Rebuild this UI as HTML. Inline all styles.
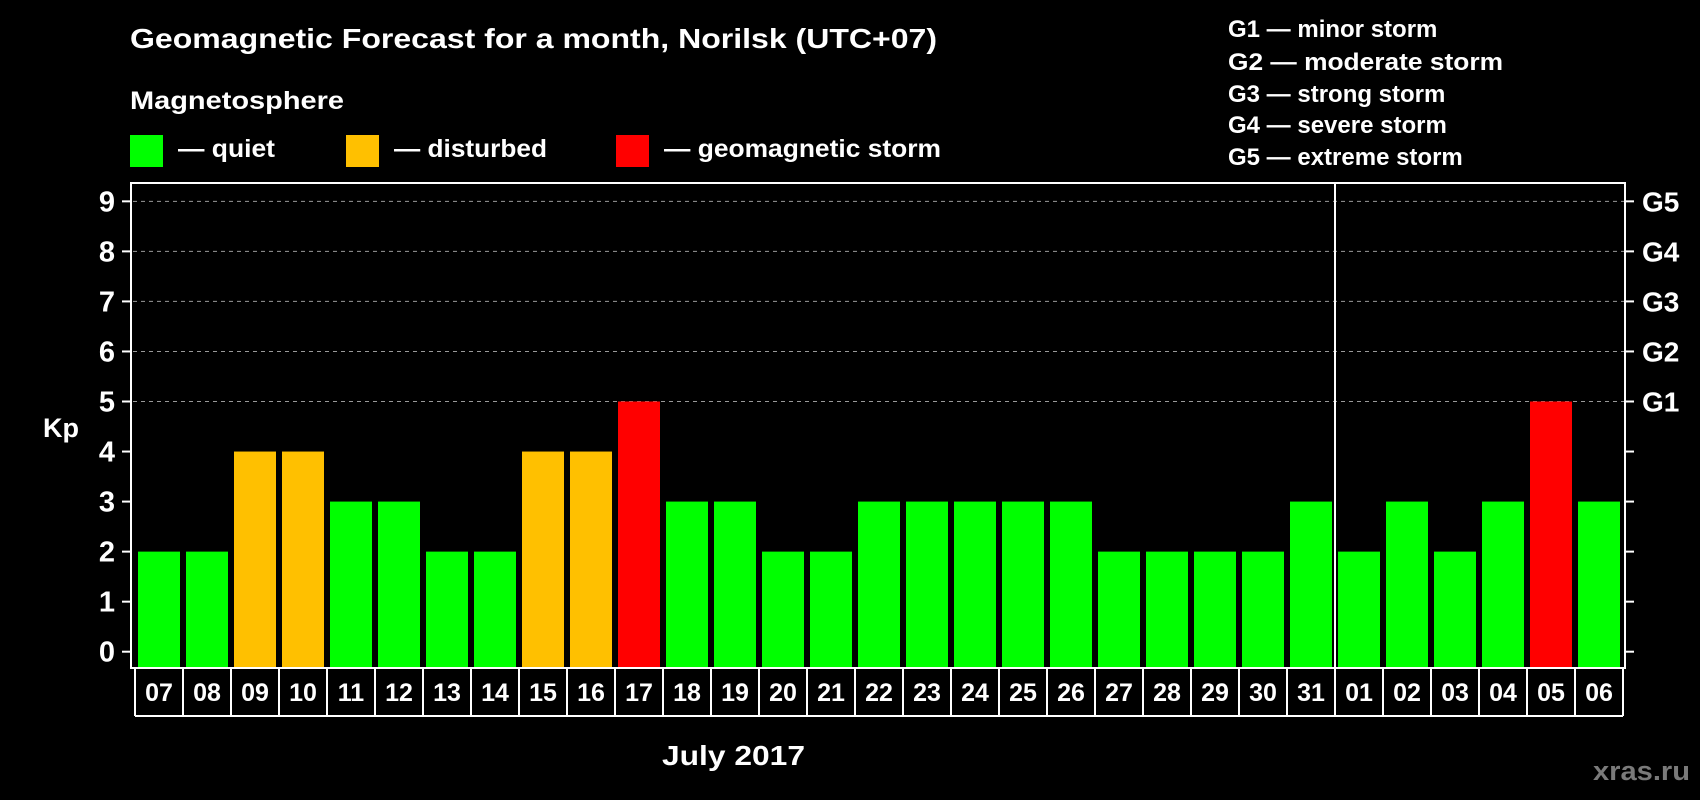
<!DOCTYPE html>
<html><head><meta charset="utf-8"><style>
html,body{margin:0;padding:0;background:#000;}
svg{display:block;font-family:"Liberation Sans",Arial,sans-serif;font-weight:bold;}
</style></head><body>
<svg id="chart" width="1700" height="800" viewBox="0 0 1700 800" xmlns="http://www.w3.org/2000/svg">
<rect width="1700" height="800" fill="#000"/>
<text x="130" y="48" fill="#fff" font-size="28" textLength="807" lengthAdjust="spacingAndGlyphs">Geomagnetic Forecast for a month, Norilsk (UTC+07)</text>
<text x="130" y="109" fill="#fff" font-size="25" textLength="214" lengthAdjust="spacingAndGlyphs">Magnetosphere</text>
<rect x="130" y="135" width="33" height="32" fill="#00ff00"/>
<text x="178" y="157" fill="#fff" font-size="25" textLength="97" lengthAdjust="spacingAndGlyphs">— quiet</text>
<rect x="346" y="135" width="33" height="32" fill="#ffc000"/>
<text x="394" y="157" fill="#fff" font-size="25" textLength="153" lengthAdjust="spacingAndGlyphs">— disturbed</text>
<rect x="616" y="135" width="33" height="32" fill="#ff0000"/>
<text x="664" y="157" fill="#fff" font-size="25" textLength="277" lengthAdjust="spacingAndGlyphs">— geomagnetic storm</text>
<g fill="#fff" font-size="24">
<text x="1228" y="37">G1 — minor storm</text>
<text x="1228" y="70" textLength="275" lengthAdjust="spacingAndGlyphs">G2 — moderate storm</text>
<text x="1228" y="102">G3 — strong storm</text>
<text x="1228" y="133">G4 — severe storm</text>
<text x="1228" y="165">G5 — extreme storm</text>
</g>
<text x="43" y="437" fill="#fff" font-size="27">Kp</text>
<text x="662" y="765" fill="#fff" font-size="28" textLength="143" lengthAdjust="spacingAndGlyphs">July 2017</text>
<text x="1593" y="780" fill="#7a7a7a" font-size="27" textLength="97" lengthAdjust="spacingAndGlyphs">xras.ru</text>
<g id="grid"></g>
<g id="bars"></g>
<g id="axes"></g>
</svg>
<script>
const dates=["07","08","09","10","11","12","13","14","15","16","17","18","19","20","21","22","23","24","25","26","27","28","29","30","31","01","02","03","04","05","06"];
const kpValues=[2,2,4,4,3,3,2,2,4,4,5,3,3,2,2,3,3,3,3,3,2,2,2,2,3,2,3,2,3,5,3];
const yTicks=[0,1,2,3,4,5,6,7,8,9];
const gLabels=["G1","G2","G3","G4","G5"];
const gLevels=[5,6,7,8,9];
const monthBreakIndex=25;

const NS="http://www.w3.org/2000/svg";
const plotL=131,plotR=1625,plotT=183,plotB=668,boxB=716;
const y0=651.7,unit=50.04;
const xStart=138,pitch=48,barW=42;
function yScale(v){return y0-v*unit;}
function xScale(i){return xStart+i*pitch;}
function mk(tag,attrs,parent){const e=document.createElementNS(NS,tag);for(const k in attrs)e.setAttribute(k,attrs[k]);parent.appendChild(e);return e;}
const grid=document.getElementById('grid'),bars=document.getElementById('bars'),axes=document.getElementById('axes');

gLevels.forEach(v=>{
  const l=mk('line',{x1:plotL+2,x2:plotR,y1:yScale(v),y2:yScale(v),stroke:'#999','stroke-width':1,'stroke-dasharray':'4,4'},grid);
  
  
});
kpValues.forEach((v,i)=>{
  const c=v>=5?'#ff0000':(v>=4?'#ffc000':'#00ff00');
  const r=mk('rect',{x:xScale(i),y:yScale(v),width:barW,height:plotB-yScale(v),fill:c},bars);
  
  
});
const frame=mk('rect',{x:plotL,y:plotT,width:plotR-plotL,height:plotB-plotT,fill:'none',stroke:'#fff','stroke-width':2},axes);


const sepX=(xScale(monthBreakIndex-1)+barW+xScale(monthBreakIndex))/2;
const sep=mk('line',{x1:sepX,x2:sepX,y1:plotT,y2:boxB,stroke:'#fff','stroke-width':2},axes);


yTicks.forEach(v=>{
  const y=yScale(v);
  mk('line',{x1:122,x2:plotL,y1:y,y2:y,stroke:'#fff','stroke-width':2},axes);
  mk('line',{x1:plotR,x2:1634,y1:y,y2:y,stroke:'#fff','stroke-width':2},axes);
  const t=mk('text',{x:115,y:y+10,fill:'#fff','font-size':29,'text-anchor':'end'},axes);
  t.textContent=v;
  
  
});
gLabels.forEach((g,i)=>{
  const t=mk('text',{x:1642,y:yScale(gLevels[i])+10,fill:'#fff','font-size':28},axes);
  t.textContent=g;
  
  
});
const bx0=xScale(0)-3;
mk('line',{x1:bx0,x2:bx0+dates.length*pitch,y1:boxB,y2:boxB,stroke:'#fff','stroke-width':2},axes);
dates.forEach((d,i)=>{
  const x=bx0+i*pitch;
  mk('line',{x1:x,x2:x,y1:plotB,y2:boxB,stroke:'#fff','stroke-width':2},axes);
  const t=mk('text',{x:x+pitch/2,y:701,fill:'#fff','font-size':25,'text-anchor':'middle'},axes);
  t.textContent=d;
  
  
});
const lastX=bx0+dates.length*pitch;
mk('line',{x1:lastX,x2:lastX,y1:plotB,y2:boxB,stroke:'#fff','stroke-width':2},axes);
</script>
</body></html>
